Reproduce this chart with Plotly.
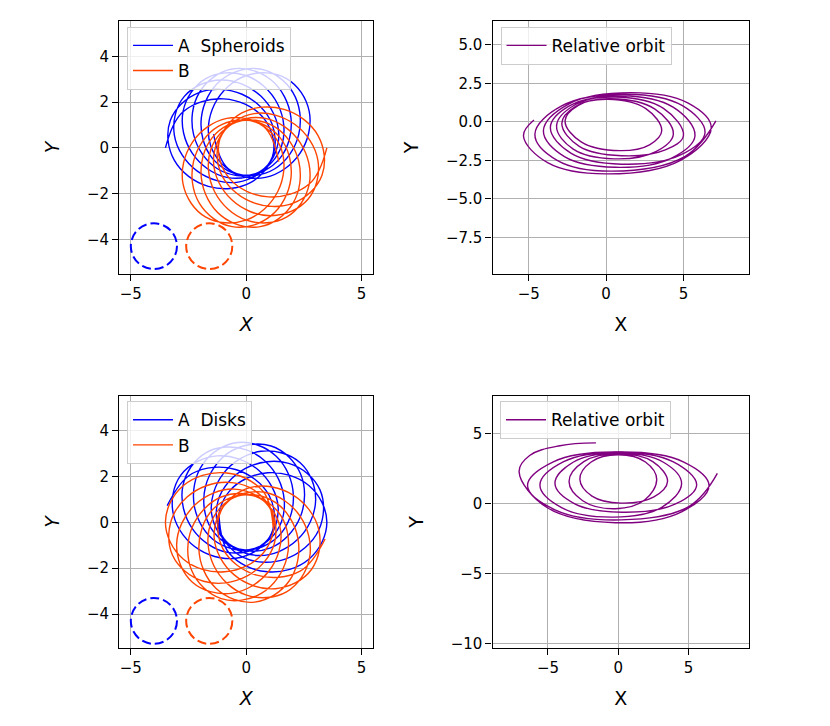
import plotly.graph_objs as go

# ---- tick labels ----
xticks_ab = [-5, 0, 5]
xticks_ab_text = ['\u22125', '0', '5']
yticks_ab = [-4, -2, 0, 2, 4]
yticks_ab_text = ['\u22124', '\u22122', '0', '2', '4']
xticks_rel = [-5, 0, 5]
xticks_rel_text = ['\u22125', '0', '5']
yticks_rel_sph = [-7.5, -5, -2.5, 0, 2.5, 5]
yticks_rel_sph_text = ['\u22127.5', '\u22125.0', '\u22122.5', '0.0', '2.5', '5.0']
yticks_rel_disk = [-10, -5, 0, 5]
yticks_rel_disk_text = ['\u221210', '\u22125', '0', '5']

# ---- body sizes (dashed circles) ----
body_a_center = (-4.0, -4.3)
body_b_center = (-1.6, -4.3)
body_radius = 1.0

# ---- spheroids: body A ----
sph_a_x = [-3.5, -2.745, -0.967, 0.698, 1.182, 0.187, -1.642, -3.117,
           -3.289, -2.042, -0.176, 1.124, 1.039, -0.346, -2.118, -3.113,
           -2.681, -1.092, 0.636, 1.415, 0.771, -0.837, -2.339, -2.734,
           -1.75, -0.011, 1.372, 1.535, 0.410, -1.227, -2.278, -2.025,
           -0.608, 1.071, 1.942, 1.470, 0.0, -1.470, -1.942, -1.071,
           0.608, 2.025, 2.278, 1.227, -0.410, -1.535, -1.372, 0.011,
           1.75, 2.734, 2.339, 0.837, -0.771, -1.415]
sph_a_y = [0.0, 1.572, 2.143, 1.369, -0.208, -1.525, -1.683, -0.538,
           1.197, 2.416, 2.344, 1.048, -0.6, -1.498, -1.020, 0.560,
           2.250, 2.968, 2.263, 0.601, -0.919, -1.289, -0.233, 1.591,
           3.031, 3.163, 1.909, 0.080, -1.128, -0.925, 0.581, 2.430,
           3.447, 2.976, 1.325, -0.449, -1.2, -0.449, 1.325, 2.976,
           3.447, 2.430, 0.581, -0.925, -1.128, 0.080, 1.909, 3.163,
           3.031, 1.591, -0.233, -1.289, -0.919, 0.601]

# ---- spheroids: body B ----
sph_b_x = [3.5, 2.745, 0.967, -0.698, -1.182, -0.187, 1.642, 3.117,
           3.289, 2.042, 0.176, -1.124, -1.039, 0.346, 2.118, 3.113,
           2.681, 1.092, -0.636, -1.415, -0.771, 0.837, 2.339, 2.734,
           1.75, 0.011, -1.372, -1.535, -0.410, 1.227, 2.278, 2.025,
           0.608, -1.071, -1.942, -1.470, 0.0, 1.470, 1.942, 1.071,
           -0.608, -2.025, -2.278, -1.227, 0.410, 1.535, 1.372, -0.011,
           -1.75, -2.734, -2.339, -0.837, 0.771, 1.415]
sph_b_y = [0.0, -1.572, -2.143, -1.369, 0.208, 1.525, 1.683, 0.538,
           -1.197, -2.416, -2.344, -1.048, 0.6, 1.498, 1.020, -0.560,
           -2.250, -2.968, -2.263, -0.601, 0.919, 1.289, 0.233, -1.591,
           -3.031, -3.163, -1.909, -0.080, 1.128, 0.925, -0.581, -2.430,
           -3.447, -2.976, -1.325, 0.449, 1.2, 0.449, -1.325, -2.976,
           -3.447, -2.430, -0.581, 0.925, 1.128, -0.080, -1.909, -3.163,
           -3.031, -1.591, 0.233, 1.289, 0.919, -0.601]

# ---- spheroids: relative orbit ----
rel_sph_x = [-4.66, -5.34, -3.78, 0.00, 4.81, 6.80, 5.28, 1.60, -2.39,
             -4.05, -2.69, 0.60, 4.24, 5.75, 4.36, 1.00, -1.97,
             -3.20, -2.12, 0.50, 3.22, 4.35, 3.16, 0.30, -1.79,
             -2.65, -1.61, 0.90, 2.81, 3.60, 2.57, 0.10, -1.99,
             -2.86, -1.73, 1.00, 3.83, 5.00, 3.71, 0.60, -2.37,
             -3.60, -2.25, 1.00, 4.82, 6.40, 4.91, 1.30, -2.87,
             -4.60, -3.16, 0.30, 5.11, 7.10]
rel_sph_y = [0.12, -0.90, -2.65, -3.38, -2.50, -0.37, 1.23, 1.90, 1.17,
             -0.58, -2.26, -2.95, -2.35, -0.90, 0.94, 1.70, 1.13,
             -0.26, -1.77, -2.40, -1.93, -0.80, 0.83, 1.50, 1.08,
             0.06, -1.30, -1.87, -1.49, -0.58, 0.86, 1.46, 1.00,
             -0.11, -1.59, -2.20, -1.82, -0.90, 0.88, 1.62, 1.04,
             -0.37, -2.05, -2.75, -2.15, -0.69, 1.07, 1.80, 1.04,
             -0.80, -2.50, -3.20, -2.24, 0.06]

# ---- disks: body A ----
disk_a_x = [-1.174, -0.733, 0.930, 2.731,
            3.5, 2.731, 0.930, -0.733, -1.174, -0.121, 1.728, 3.144,
            3.197, 1.846, -0.029, -1.219, -0.971, 0.513, 2.227, 3.013,
            2.342, 0.641, -0.982, -1.495, -0.6, 1.058, 2.341, 2.361,
            1.082, -0.674, -1.766, -1.511, -0.125, 1.420, 2.050, 1.302,
            -0.366, -1.873, -2.245, -1.267, 0.371, 1.536, 1.405, 0.017,
            -1.75, -2.747, -2.335, -0.803, 0.803, 1.387, 0.517, -1.271,
            -2.832, -3.148, -2.022, -0.201, 1.096, 0.998, -0.461, -2.339,
            -3.423]
disk_a_y = [0.249, -1.351, -2.159, -1.596,
            0.0, 1.596, 2.159, 1.351, -0.249, -1.532, -1.594, -0.347,
            1.424, 2.569, 2.351, 0.936, -0.705, -1.449, -0.754, 0.962,
            2.601, 3.097, 2.136, 0.359, -1.039, -1.115, 0.217, 2.104,
            3.329, 3.090, 1.552, -0.280, -1.193, -0.588, 1.151, 2.883,
            3.481, 2.549, 0.699, -0.871, -1.141, 0.040, 1.885, 3.163,
            3.031, 1.567, -0.274, -1.310, -0.892, 0.662, 2.293, 2.896,
            2.057, 0.314, -1.200, -1.524, -0.488, 1.169, 2.305, 2.129,
            0.728]

# ---- disks: body B ----
disk_b_x = [1.174, 0.733, -0.930, -2.731,
            -3.5, -2.731, -0.930, 0.733, 1.174, 0.121, -1.728, -3.144,
            -3.197, -1.846, 0.029, 1.219, 0.971, -0.513, -2.227, -3.013,
            -2.342, -0.641, 0.982, 1.495, 0.6, -1.058, -2.341, -2.361,
            -1.082, 0.674, 1.766, 1.511, 0.125, -1.420, -2.050, -1.302,
            0.366, 1.873, 2.245, 1.267, -0.371, -1.536, -1.405, -0.017,
            1.75, 2.747, 2.335, 0.803, -0.803, -1.387, -0.517, 1.271,
            2.832, 3.148, 2.022, 0.201, -1.096, -0.998, 0.461, 2.339,
            3.423]
disk_b_y = [-0.249, 1.351, 2.159, 1.596,
            0.0, -1.596, -2.159, -1.351, 0.249, 1.532, 1.594, 0.347,
            -1.424, -2.569, -2.351, -0.936, 0.705, 1.449, 0.754, -0.962,
            -2.601, -3.097, -2.136, -0.359, 1.039, 1.115, -0.217, -2.104,
            -3.329, -3.090, -1.552, 0.280, 1.193, 0.588, -1.151, -2.883,
            -3.481, -2.549, -0.699, 0.871, 1.141, -0.040, -1.885, -3.163,
            -3.031, -1.567, 0.274, 1.310, 0.892, -0.662, -2.293, -2.896,
            -2.057, -0.314, 1.200, 1.524, 0.488, -1.169, -2.305, -2.129,
            -0.728]

# ---- disks: relative orbit ----
rel_disk_x = [-1.59, -4.15, -6.30, -7.05, -5.04, -0.20, 4.50, 6.45, 4.62, 0.20, -3.88,
              -5.57, -4.03, -0.30, 3.09, 4.50, 3.21, 0.10, -2.45,
              -3.50, -2.53, -0.20, 1.87, 2.73, 1.93, 0.00, -1.93,
              -2.73, -1.87, 0.20, 2.53, 3.50, 2.45, -0.10, -3.21,
              -4.50, -3.09, 0.30, 4.03, 5.57, 3.88, -0.20, -4.62,
              -6.45, -4.50, 0.20, 5.04, 7.04]
rel_disk_y = [4.35, 4.15, 3.45, 2.30, -0.28, -1.35, -0.57, 1.30, 3.00, 3.70, 3.01,
              1.35, -0.28, -0.95, -0.25, 1.45, 2.97, 3.60, 3.01,
              1.60, 0.22, -0.35, 0.27, 1.75, 2.99, 3.50, 2.99,
              1.75, 0.55, 0.05, 0.50, 1.60, 3.01, 3.60, 2.97,
              1.45, 0.00, -0.60, -0.03, 1.35, 3.01, 3.70, 3.00,
              1.30, -0.43, -1.15, -0.18, 2.17]

FONT = 'DejaVu Sans'
BLUE = 'blue'
ORANGE = 'orangered'
PURPLE = 'purple'

# the page puts an 8px body margin around the figure
W, H, PAD = 814, 710, 8


def fx(px):
    return (px - PAD) / W


def fy(py):
    return 1 - (py - PAD) / H


def orbit(x, y, color, name, xa, ya, legend):
    return go.Scatter(x=x, y=y, mode='lines', name=name,
                      line=dict(color=color, width=1.4, shape='spline', smoothing=1.1),
                      xaxis=xa, yaxis=ya, legend=legend, hoverinfo='skip')


data = [
    orbit(sph_a_x, sph_a_y, BLUE, 'A\u00a0 Spheroids', 'x', 'y', 'legend'),
    orbit(sph_b_x, sph_b_y, ORANGE, 'B', 'x', 'y', 'legend'),
    orbit(rel_sph_x, rel_sph_y, PURPLE, 'Relative orbit', 'x2', 'y2', 'legend2'),
    orbit(disk_a_x, disk_a_y, BLUE, 'A\u00a0 Disks', 'x3', 'y3', 'legend3'),
    orbit(disk_b_x, disk_b_y, ORANGE, 'B', 'x3', 'y3', 'legend3'),
    orbit(rel_disk_x, rel_disk_y, PURPLE, 'Relative orbit', 'x4', 'y4', 'legend4'),
]


def axis(domain, rng, tickvals, ticktext, title, anchor, standoff=None):
    ttl = dict(text=title, font=dict(family=FONT, size=19, color='black'))
    if standoff is not None:
        ttl['standoff'] = standoff
    return dict(domain=domain, range=rng, tickvals=tickvals, ticktext=ticktext,
                anchor=anchor, showline=True, mirror=True, linecolor='black', linewidth=1.3,
                ticks='outside', ticklen=6, tickwidth=1.3, tickcolor='black',
                showgrid=True, gridcolor='#b0b0b0', gridwidth=1.2, zeroline=False,
                tickfont=dict(family=FONT, size=15, color='black'), title=ttl)


left = [fx(119.3), fx(373)]
right = [fx(492.5), fx(749)]
top = [fy(275.5), fy(21.5)]
bottom = [fy(652.5), fy(398.5)]


def legend_at(px, py):
    return dict(x=fx(px), y=fy(py), xanchor='left', yanchor='top', itemwidth=40,
                bgcolor='rgba(255,255,255,0.8)', bordercolor='#cccccc', borderwidth=1,
                font=dict(family=FONT, size=17, color='black'), tracegroupgap=0)


def body(center, color, xref, yref):
    cx, cy = center
    return dict(type='circle', xref=xref, yref=yref,
                x0=cx - body_radius, x1=cx + body_radius,
                y0=cy - body_radius, y1=cy + body_radius,
                line=dict(color=color, width=2, dash='9px,4px'))


layout = go.Layout(
    width=W, height=H,
    margin=dict(l=0, r=0, t=0, b=0),
    paper_bgcolor='white', plot_bgcolor='white',
    font=dict(family=FONT),
    xaxis=axis(left, [-5.5, 5.5], xticks_ab, xticks_ab_text, '<i>X</i>', 'y'),
    yaxis=axis(top, [-5.5, 5.53], yticks_ab, yticks_ab_text, '<i>Y</i>', 'x', 22),
    xaxis2=axis(right, [-7.34, 9.24], xticks_rel, xticks_rel_text, 'X', 'y2'),
    yaxis2=axis(top, [-9.86, 6.53], yticks_rel_sph, yticks_rel_sph_text, 'Y', 'x2', 22),
    xaxis3=axis(left, [-5.5, 5.5], xticks_ab, xticks_ab_text, '<i>X</i>', 'y3'),
    yaxis3=axis(bottom, [-5.48, 5.52], yticks_ab, yticks_ab_text, '<i>Y</i>', 'x3', 22),
    xaxis4=axis(right, [-8.94, 9.29], xticks_rel, xticks_rel_text, 'X', 'y4'),
    yaxis4=axis(bottom, [-10.3, 7.72], yticks_rel_disk, yticks_rel_disk_text, 'Y', 'x4', 22),
    legend=legend_at(127, 27),
    legend2=legend_at(500.5, 27),
    legend3=legend_at(127, 404),
    legend4=legend_at(500, 404),
    shapes=[body(body_a_center, BLUE, 'x', 'y'), body(body_b_center, ORANGE, 'x', 'y'),
            body(body_a_center, BLUE, 'x3', 'y3'), body(body_b_center, ORANGE, 'x3', 'y3')],
)

fig = go.Figure(data=data, layout=layout)
fig.write_html('out.html')
